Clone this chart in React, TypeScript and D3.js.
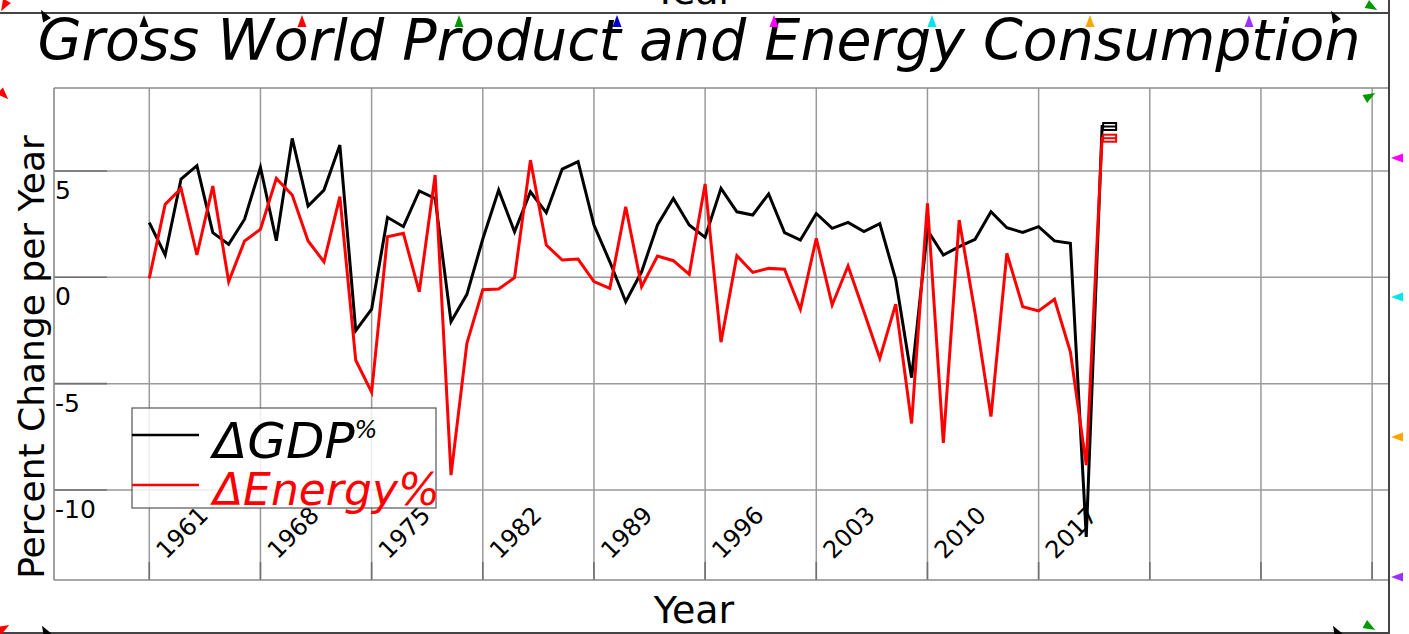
import { useEffect, useRef } from 'react';
import * as d3 from 'd3';

// Values (percent change per year)
const FIRST_YEAR = 1961;

const GDP_CHANGE = [
  2.57, 1.05, 4.62, 5.25, 2.1, 1.55, 2.73, 5.17, 1.72, 6.53,
  3.35, 4.1, 6.22, -2.51, -1.5, 2.82, 2.38, 4.06, 3.71, -2.09,
  -0.8, 1.8, 4.1, 2.14, 4.02, 3.04, 5.09, 5.44, 2.46, 0.73,
  -1.15, 0.26, 2.46, 3.71, 2.46, 1.88, 4.18, 3.08, 2.93, 3.92,
  2.1, 1.75, 3.0, 2.3, 2.58, 2.15, 2.52, -0.1, -4.72, 2.22,
  1.05, 1.44, 1.79, 3.08, 2.33, 2.11, 2.38, 1.71, 1.6, -12.2,
  7.16,
];

const ENERGY_CHANGE = [
  -0.05, 3.43, 4.18, 1.05, 4.29, -0.2, 1.71, 2.26, 4.65, 3.87,
  1.71, 0.73, 3.79, -3.9, -5.4, 1.91, 2.07, -0.68, 4.81, -9.3,
  -3.1, -0.58, -0.55, -0.02, 5.51, 1.52, 0.81, 0.86, -0.2, -0.52,
  3.32, -0.44, 1.0, 0.78, 0.14, 4.39, -3.05, 1.02, 0.23, 0.42,
  0.38, -1.5, 1.83, -1.3, 0.53, -1.62, -3.81, -1.26, -6.87, 3.48,
  -7.78, 2.69, -1.69, -6.55, 1.13, -1.38, -1.58, -1.03, -3.5, -8.83,
  6.61,
];

const X_GRID_YEARS = [1961, 1968, 1975, 1982, 1989, 1996, 2003, 2010, 2017, 2024, 2031, 2038];
const X_TICK_LABELS = ['1961', '1968', '1975', '1982', '1989', '1996', '2003', '2010', '2017'];
const Y_TICKS = [5, 0, -5, -10];
const Y_TICK_LABELS = ['5', '0', '-5', '-10'];

const SERIES = [
  { name: 'GDP', values: GDP_CHANGE, color: '#000000' },
  { name: 'Energy', values: ENERGY_CHANGE, color: '#ff0000' },
];

// small coloured axis markers scattered round the frame (decoration)
const MARKERS = [
  { x: 4, y: 6, color: '#ff0000', angle: 210 },
  { x: 44, y: 15, color: '#000000', angle: -30 },
  { x: 144, y: 21, color: '#000000', angle: 0 },
  { x: 302, y: 21, color: '#ff0000', angle: 0 },
  { x: 459, y: 21, color: '#009900', angle: 0 },
  { x: 617, y: 21, color: '#0000cc', angle: 0 },
  { x: 774, y: 21, color: '#ff00ff', angle: 0 },
  { x: 932, y: 21, color: '#00e5ee', angle: 0 },
  { x: 1090, y: 21, color: '#ffa500', angle: 0 },
  { x: 1249, y: 21, color: '#9b30ff', angle: 0 },
  { x: 1334, y: 16, color: '#000000', angle: -30 },
  { x: 1372, y: 7, color: '#009900', angle: 120 },
  { x: 4, y: 95, color: '#ff0000', angle: 135 },
  { x: 1370, y: 96, color: '#009900', angle: 60 },
  { x: 1397, y: 158, color: '#ff00ff', angle: -90 },
  { x: 1397, y: 297, color: '#00e5ee', angle: -90 },
  { x: 1397, y: 437, color: '#ffa500', angle: -90 },
  { x: 1397, y: 577, color: '#9b30ff', angle: -90 },
  { x: 4, y: 628, color: '#ff0000', angle: 60 },
  { x: 45, y: 631, color: '#000000', angle: -30 },
  { x: 1336, y: 631, color: '#000000', angle: -30 },
  { x: 1370, y: 627, color: '#009900', angle: 120 },
];

const WIDTH = 1409;
const HEIGHT = 634;
const PLOT = { left: 54, top: 88, right: 1388, bottom: 580 };
const FONT = '"DejaVu Sans", Verdana, sans-serif';

export default function App() {
  const svgRef = useRef<SVGSVGElement>(null);

  useEffect(() => {
    if (!svgRef.current) return;
    document.body.style.margin = '0';

    const svg = d3.select(svgRef.current).attr('width', WIDTH).attr('height', HEIGHT);
    svg.selectAll('*').remove();
    svg.style('font-family', FONT).style('background', '#ffffff');

    const x = d3.scaleLinear().domain([1955, 2039]).range([PLOT.left, PLOT.right]);
    const y = d3.scaleLinear().domain([-14.23, 8.9]).range([PLOT.bottom, PLOT.top]);

    // Title (and the clipped top-axis title above the frame)
    svg
      .append('text')
      .attr('x', 694)
      .attr('y', 4)
      .attr('text-anchor', 'middle')
      .attr('font-size', '38px')
      .attr('fill', '#000')
      .text('Year');

    svg
      .append('text')
      .attr('x', 699)
      .attr('y', 60)
      .attr('text-anchor', 'middle')
      .attr('font-size', '57px')
      .attr('font-style', 'italic')
      .attr('fill', '#000')
      .text('Gross World Product and Energy Consumption');

    // Outer frame
    const frame = svg.append('g').attr('stroke', '#444').attr('stroke-width', 2).attr('fill', 'none');
    frame.append('line').attr('x1', 0).attr('x2', 1389).attr('y1', 13).attr('y2', 13);
    frame.append('line').attr('x1', 1389).attr('x2', 1389).attr('y1', 0).attr('y2', 634);
    frame.append('line').attr('x1', 0).attr('x2', 1389).attr('y1', 633).attr('y2', 633);

    // Grid
    const grid = svg.append('g').attr('stroke', '#9a9a9a').attr('stroke-width', 1.5);
    grid
      .selectAll('.vgrid')
      .data(X_GRID_YEARS)
      .enter()
      .append('line')
      .attr('x1', (d: number) => x(d))
      .attr('x2', (d: number) => x(d))
      .attr('y1', PLOT.top)
      .attr('y2', PLOT.bottom);
    grid
      .selectAll('.hgrid')
      .data(Y_TICKS)
      .enter()
      .append('line')
      .attr('x1', PLOT.left)
      .attr('x2', PLOT.right)
      .attr('y1', (d: number) => y(d))
      .attr('y2', (d: number) => y(d));

    // Darker tick marks along the axes
    const ticks = svg.append('g').attr('stroke', '#707070').attr('stroke-width', 1.6);
    ticks
      .selectAll('.xtick')
      .data(X_GRID_YEARS)
      .enter()
      .append('line')
      .attr('x1', (d: number) => x(d))
      .attr('x2', (d: number) => x(d))
      .attr('y1', PLOT.bottom - 18)
      .attr('y2', PLOT.bottom);
    ticks
      .selectAll('.ytick')
      .data(Y_TICKS)
      .enter()
      .append('line')
      .attr('x1', PLOT.left)
      .attr('x2', PLOT.left + 53)
      .attr('y1', (d: number) => y(d))
      .attr('y2', (d: number) => y(d));

    // Plot border (left, top, bottom)
    const border = svg.append('g').attr('stroke', '#8a8a8a').attr('stroke-width', 1.6);
    border.append('line').attr('x1', PLOT.left).attr('x2', PLOT.left).attr('y1', PLOT.top).attr('y2', PLOT.bottom);
    border.append('line').attr('x1', PLOT.left).attr('x2', PLOT.right).attr('y1', PLOT.top).attr('y2', PLOT.top);
    border.append('line').attr('x1', PLOT.left).attr('x2', PLOT.right).attr('y1', PLOT.bottom).attr('y2', PLOT.bottom);

    // Y tick labels, hanging under their grid lines
    svg
      .selectAll('.ylabel')
      .data(Y_TICKS)
      .enter()
      .append('text')
      .attr('x', PLOT.left + 1)
      .attr('y', (d: number) => y(d) + 28)
      .attr('font-size', '25px')
      .attr('fill', '#000')
      .text((_d: number, i: number) => Y_TICK_LABELS[i]);

    // X tick labels, rotated
    svg
      .selectAll('.xlabel')
      .data(X_TICK_LABELS)
      .enter()
      .append('text')
      .attr('transform', (d: string) => `translate(${x(+d) + 17}, 560) rotate(-45)`)
      .attr('font-size', '24px')
      .attr('fill', '#000')
      .text((d: string) => d);

    // Axis titles
    svg
      .append('text')
      .attr('x', 694)
      .attr('y', 623)
      .attr('text-anchor', 'middle')
      .attr('font-size', '38px')
      .attr('fill', '#000')
      .text('Year');

    svg
      .append('text')
      .attr('transform', 'translate(44, 357) rotate(-90)')
      .attr('text-anchor', 'middle')
      .attr('font-size', '36px')
      .attr('fill', '#000')
      .text('Percent Change per Year');

    // Series lines
    const line = d3
      .line<number>()
      .x((_d: number, i: number) => x(FIRST_YEAR + i))
      .y((d: number) => y(d));

    SERIES.forEach(s => {
      svg
        .append('path')
        .datum(s.values)
        .attr('d', line)
        .attr('fill', 'none')
        .attr('stroke', s.color)
        .attr('stroke-width', 3)
        .attr('stroke-linejoin', 'miter');

      // little end-of-series label boxes
      const last = s.values.length - 1;
      const ex = x(FIRST_YEAR + last);
      const ey = y(s.values[last]);
      const box = svg.append('g').attr('stroke', s.color).attr('stroke-width', 2).attr('fill', 'none');
      box.append('rect').attr('x', ex + 1).attr('y', ey - 2).attr('width', 13).attr('height', 7);
      box.append('line').attr('x1', ex + 1).attr('x2', ex + 14).attr('y1', ey + 1.5).attr('y2', ey + 1.5);
    });

    // Legend
    const legend = svg.append('g');
    legend
      .append('rect')
      .attr('x', 132)
      .attr('y', 408)
      .attr('width', 304)
      .attr('height', 100)
      .attr('fill', '#ffffff')
      .attr('fill-opacity', 0.82)
      .attr('stroke', '#555')
      .attr('stroke-width', 1.2);
    legend.append('line').attr('x1', 132).attr('x2', 199).attr('y1', 435).attr('y2', 435)
      .attr('stroke', SERIES[0].color).attr('stroke-width', 2.4);
    legend.append('line').attr('x1', 132).attr('x2', 199).attr('y1', 485).attr('y2', 485)
      .attr('stroke', SERIES[1].color).attr('stroke-width', 2.4);

    const gdpText = legend
      .append('text')
      .attr('x', 213)
      .attr('y', 458)
      .attr('font-style', 'italic')
      .attr('fill', SERIES[0].color);
    gdpText.append('tspan').attr('font-size', '50px').text('ΔGDP');
    gdpText.append('tspan').attr('font-size', '24px').attr('dy', -20).text('%');

    legend
      .append('text')
      .attr('x', 213)
      .attr('y', 505)
      .attr('font-size', '44px')
      .attr('font-style', 'italic')
      .attr('fill', SERIES[1].color)
      .text('ΔEnergy%');

    // Frame markers
    svg
      .selectAll('.marker')
      .data(MARKERS)
      .enter()
      .append('path')
      .attr('d', 'M0,-6L4.5,6L-4.5,6Z')
      .attr('transform', (d: any) => `translate(${d.x}, ${d.y}) rotate(${d.angle})`)
      .attr('fill', (d: any) => d.color);

    return () => {
      svg.selectAll('*').remove();
    };
  }, []);

  return <svg ref={svgRef} style={{ display: 'block' }} />;
}
